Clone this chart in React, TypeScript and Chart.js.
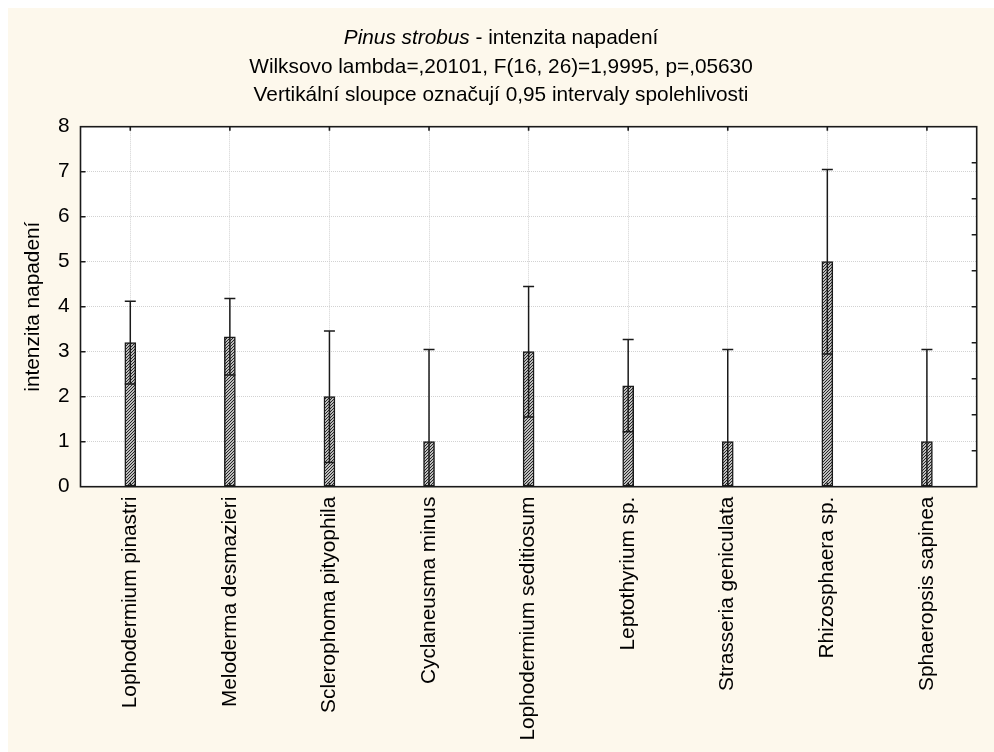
import React, { useEffect, useRef } from "react";
import { Chart, registerables } from "chart.js";

Chart.register(...registerables);

// Fungal species on the x axis
const categories = [
  "Lophodermium pinastri",
  "Meloderma desmazieri",
  "Sclerophoma pityophila",
  "Cyclaneusma minus",
  "Lophodermium seditiosum",
  "Leptothyrium sp.",
  "Strasseria geniculata",
  "Rhizosphaera sp.",
  "Sphaeropsis sapinea",
];

// Mean infestation intensity and its 0.95 confidence limits
const means = [3.2, 3.33, 2.0, 1.0, 3.0, 2.24, 1.0, 5.0, 1.0];
const lowerCI = [2.28, 2.48, 0.54, -1.05, 1.55, 1.22, -1.05, 2.95, -1.05];
const upperCI = [4.12, 4.18, 3.46, 3.05, 4.45, 3.27, 3.05, 7.05, 3.05];

// Axis settings
const yMin = 0;
const yMax = 8;
const yStep = 1;
const rightAxisMax = 10;
const rightTickValues = [1, 2, 3, 4, 5, 6, 7, 8, 9];

const titleItalic = "Pinus strobus";
const titleRest = " - intenzita napadení";
const subtitleLines = [
  "Wilksovo lambda=,20101, F(16, 26)=1,9995, p=,05630",
  "Vertikální sloupce označují 0,95 intervaly spolehlivosti",
];
const yAxisTitle = "intenzita napadení";

const FONT = '"Liberation Sans", Arial, Helvetica, sans-serif';
const FONT_SIZE = 20.8;
const CREAM = "#fdf8ec";
const INK = "#1a1a1a";
const GRID = "#d2d2d2";

function makeHatch(): CanvasPattern | string {
  const tile = document.createElement("canvas");
  tile.width = 3;
  tile.height = 3;
  const c = tile.getContext("2d");
  if (!c) return "#999";
  c.fillStyle = "#bdbdbd";
  c.fillRect(0, 0, 3, 3);
  c.fillStyle = "#262626";
  c.fillRect(2, 0, 1, 1);
  c.fillRect(1, 1, 1, 1);
  c.fillRect(0, 2, 1, 1);
  const p = c.createPattern(tile, "repeat");
  return p || "#999";
}

// White plot area behind the grid
const plotBackground = {
  id: "plotBackground",
  beforeDraw(chart: any) {
    const { ctx, chartArea: a } = chart;
    ctx.save();
    ctx.fillStyle = "#ffffff";
    ctx.fillRect(a.left, a.top, a.right - a.left, a.bottom - a.top);
    ctx.restore();
  },
};

// Three-line heading with the species name in italics
const headingPlugin = {
  id: "heading",
  afterDraw(chart: any) {
    const { ctx, width } = chart;
    const cx = width / 2;
    ctx.save();
    ctx.fillStyle = "#000";
    ctx.textBaseline = "middle";
    ctx.textAlign = "left";
    const italicFont = `italic ${FONT_SIZE}px ${FONT}`;
    const normalFont = `${FONT_SIZE}px ${FONT}`;
    ctx.font = italicFont;
    const w1 = ctx.measureText(titleItalic).width;
    ctx.font = normalFont;
    const w2 = ctx.measureText(titleRest).width;
    const x0 = cx - (w1 + w2) / 2;
    const lineY = [30, 59, 87];
    ctx.font = italicFont;
    ctx.fillText(titleItalic, x0, lineY[0]);
    ctx.font = normalFont;
    ctx.fillText(titleRest, x0 + w1, lineY[0]);
    ctx.textAlign = "center";
    subtitleLines.forEach((t, i) => ctx.fillText(t, cx, lineY[i + 1]));
    ctx.restore();
  },
};

// Confidence-interval whiskers: line from lower to upper limit, caps at both ends
const whiskers = {
  id: "whiskers",
  afterDatasetsDraw(chart: any) {
    const { ctx, chartArea: a, scales } = chart;
    const xs = scales.x;
    const ys = scales.y;
    const meta = chart.getDatasetMeta(0);
    ctx.save();
    ctx.beginPath();
    ctx.rect(a.left, a.top, a.right - a.left, a.bottom - a.top);
    ctx.clip();
    ctx.strokeStyle = INK;
    ctx.lineWidth = 1.5;
    means.forEach((_, i) => {
      const x = xs.getPixelForValue(i);
      const bar = meta.data[i];
      const half = bar ? bar.width / 2 : 5.5;
      const yHi = ys.getPixelForValue(upperCI[i]);
      const yLo = ys.getPixelForValue(lowerCI[i]);
      ctx.beginPath();
      ctx.moveTo(x, yLo);
      ctx.lineTo(x, yHi);
      ctx.moveTo(x - half, yHi);
      ctx.lineTo(x + half, yHi);
      ctx.moveTo(x - half, yLo);
      ctx.lineTo(x + half, yLo);
      ctx.stroke();
    });
    ctx.restore();
  },
};

// Plot frame with inward tick marks on all four sides
const frame = {
  id: "frame",
  afterDraw(chart: any) {
    const { ctx, chartArea: a, scales } = chart;
    const xs = scales.x;
    const ys = scales.y;
    const y2 = scales.y2;
    ctx.save();
    ctx.strokeStyle = INK;
    ctx.lineWidth = 1.6;
    ctx.strokeRect(a.left, a.top, a.right - a.left, a.bottom - a.top);
    ctx.beginPath();
    for (let v = yMin + yStep; v < yMax; v += yStep) {
      const y = ys.getPixelForValue(v);
      ctx.moveTo(a.left, y);
      ctx.lineTo(a.left + 5, y);
    }
    rightTickValues.forEach((v) => {
      const y = y2.getPixelForValue(v);
      ctx.moveTo(a.right, y);
      ctx.lineTo(a.right - 5, y);
    });
    categories.forEach((_, i) => {
      const x = xs.getPixelForValue(i);
      ctx.moveTo(x, a.top);
      ctx.lineTo(x, a.top + 4);
      ctx.moveTo(x, a.bottom);
      ctx.lineTo(x, a.bottom - 4);
    });
    ctx.stroke();
    ctx.restore();
  },
};

export default function App() {
  const ref = useRef<HTMLCanvasElement | null>(null);

  useEffect(() => {
    if (!ref.current) return;
    const chart = new Chart(ref.current, {
      type: "bar",
      data: {
        labels: categories,
        datasets: [
          {
            data: means,
            backgroundColor: makeHatch() as any,
            borderColor: INK,
            borderWidth: 1.5,
            borderSkipped: false,
            barThickness: 11,
            yAxisID: "y",
          },
        ],
      },
      options: {
        responsive: false,
        animation: false,
        devicePixelRatio: 1,
        layout: { padding: { top: 118.7, right: 17.3, left: 0, bottom: 0 } },
        plugins: {
          legend: { display: false },
          title: { display: false },
          tooltip: { enabled: false },
        },
        scales: {
          x: {
            type: "category",
            offset: true,
            grid: {
              offset: false,
              color: GRID,
              lineWidth: 1,
              drawTicks: false,
            },
            border: { display: false, dash: [1, 1] },
            ticks: {
              autoSkip: false,
              minRotation: 90,
              maxRotation: 90,
              padding: 10,
              color: "#000",
              font: { family: FONT, size: FONT_SIZE },
            },
            afterFit: (s: any) => {
              s.height = 265.3;
            },
          },
          y: {
            type: "linear",
            position: "left",
            min: yMin,
            max: yMax,
            grid: { color: GRID, lineWidth: 1, drawTicks: false },
            border: { display: false, dash: [1, 1] },
            ticks: {
              stepSize: yStep,
              padding: 11,
              color: "#000",
              font: { family: FONT, size: FONT_SIZE },
            },
            title: {
              display: true,
              text: yAxisTitle,
              color: "#000",
              font: { family: FONT, size: FONT_SIZE },
              padding: { top: 12.5, bottom: 0 },
            },
            afterFit: (s: any) => {
              s.width = 72.5;
            },
          },
          y2: {
            type: "linear",
            position: "right",
            min: 0,
            max: rightAxisMax,
            display: false,
          },
        },
      },
      plugins: [plotBackground, whiskers, frame, headingPlugin],
    });
    return () => chart.destroy();
  }, []);

  return (
    <div style={{ position: "absolute", left: 8, top: 8 }}>
      <canvas
        ref={ref}
        width={986}
        height={744}
        style={{ display: "block", width: 986, height: 744, background: CREAM }}
      />
    </div>
  );
}
